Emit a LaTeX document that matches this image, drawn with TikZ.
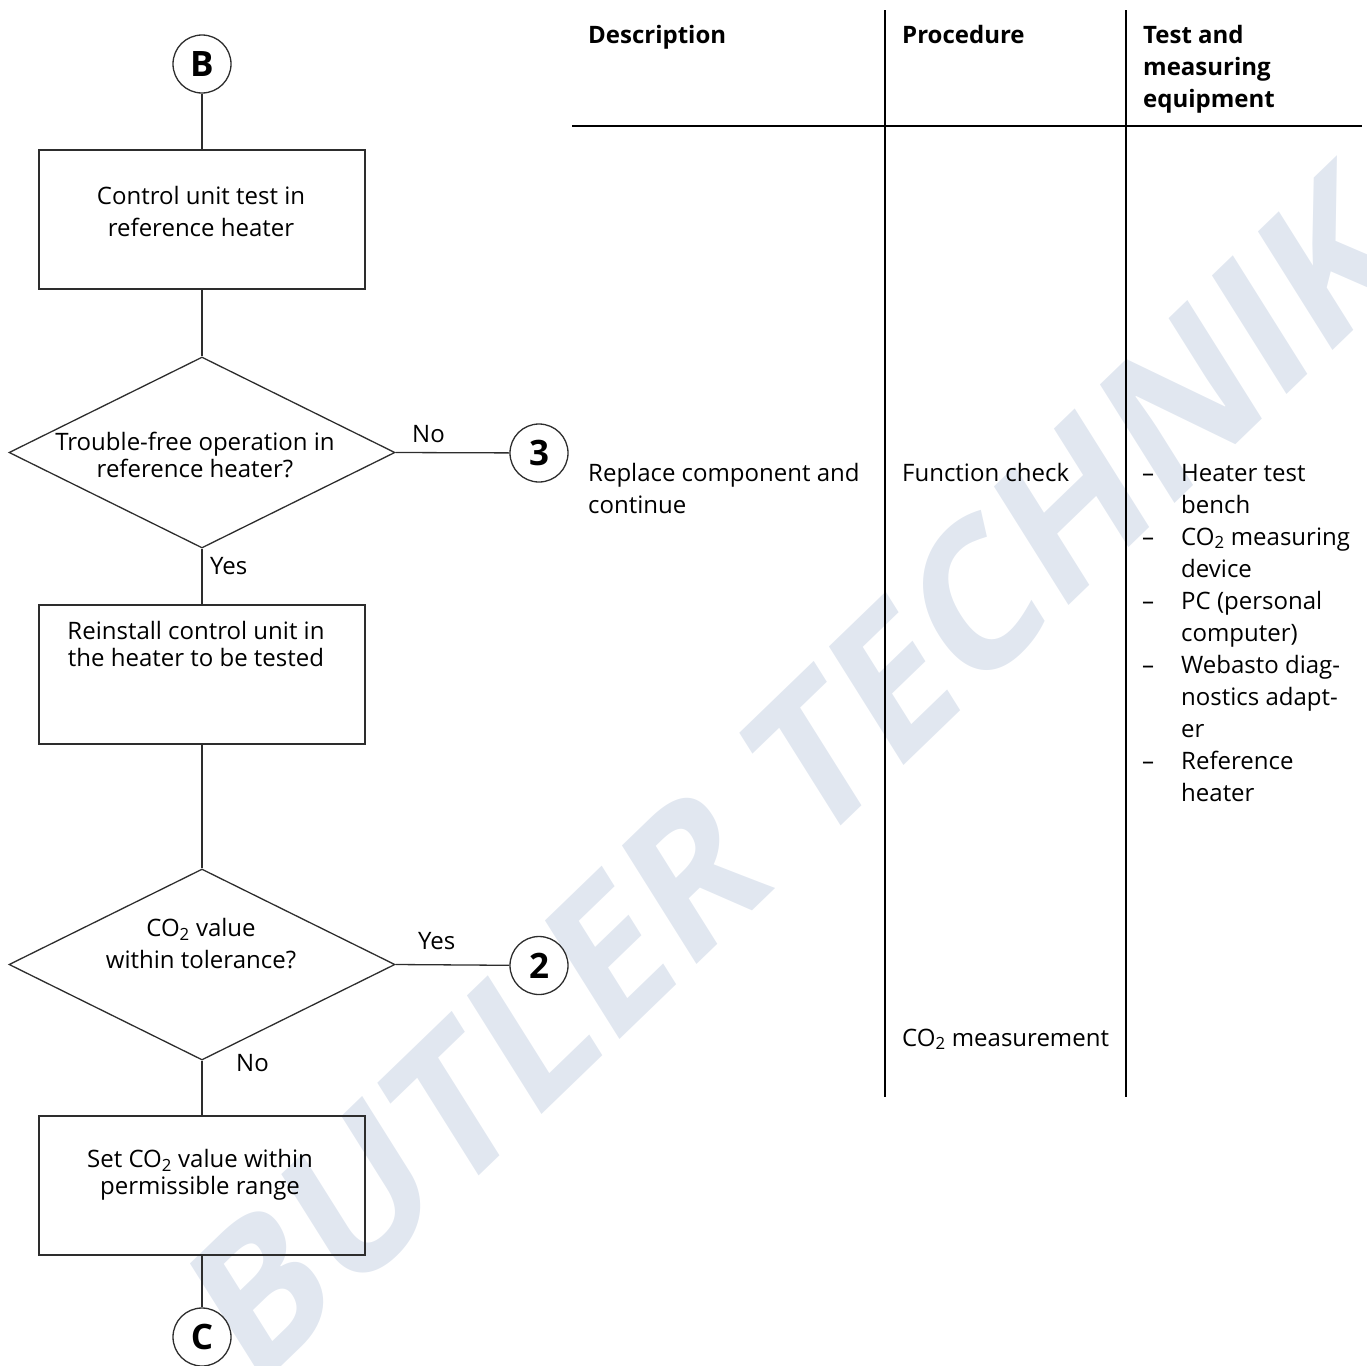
\documentclass[tikz,border=0pt]{standalone}
\usepackage{fontspec}
\setmainfont{Open Sans}
\usetikzlibrary{shapes.geometric, positioning}
\definecolor{wmblue}{RGB}{225,231,240}
\definecolor{lineg}{RGB}{45,45,45}

\begin{document}
\begin{tikzpicture}[x=1pt, y=-1pt,
  flowbox/.style={draw=lineg, line width=1.3, minimum width=326, minimum height=139, inner sep=0},
  decision/.style={diamond, draw=lineg, line width=1.3, minimum width=386, minimum height=191, inner sep=0},
  connector/.style={circle, draw=lineg, line width=1.3, minimum size=58, inner sep=0,
    font=\fontsize{35}{35}\selectfont\bfseries},
  flowtext/.style={align=center, inner sep=0, font=\fontsize{24}{27}\selectfont},
  coltext/.style={align=left, inner sep=0, anchor=north west, font=\fontsize{24}{32}\selectfont},
  label/.style={inner sep=0, anchor=base west, font=\fontsize{24}{27}\selectfont}]
  \useasboundingbox (0,0) rectangle (1367,1365);
  % Wasserzeichen
  \node[rotate=44, xslant=0.21, text=wmblue, inner sep=0, font=\fontsize{192}{192}\selectfont\bfseries]
    (wm) at (795,775) {BUTLER TECHNIK};
  % Tabelle rechts
  \draw[line width=1.2] (572,126) -- (1362,126);
  \foreach \cx in {885, 1126} {
    \draw[line width=1.2] (\cx,10) -- (\cx,1097);
  }
  \node[coltext] (hdesc) at (588,25) {\bfseries Description};
  \node[coltext] (hproc) at (902,25) {\bfseries Procedure};
  \node[coltext] (hequip) at (1143,25) {\bfseries Test and\\\bfseries measuring\\\bfseries equipment};
  \node[coltext] (desc) at (588,463) {Replace component and\\continue};
  \node[coltext] (proc) at (902,463) {Function check};
  \node[coltext] (meas) at (902,1028.5) {CO\textsubscript{2} measurement};
  \node[coltext] (equip) at (1142,458.6) {%
    \begin{tabular}{@{}p{39pt}@{}l@{}}
      -- & Heater test\\
         & bench\\
      -- & CO\textsubscript{2} measuring\\
         & device\\
      -- & PC (personal\\
         & computer)\\
      -- & Webasto diag-\\
         & nostics adapt-\\
         & er\\
      -- & Reference\\
         & heater
    \end{tabular}};
  % Ablauf links
  \node[connector] (B) at (202,64) {B};
  \node[flowbox] (ctrl) at (202,219.5) {};
  \node[flowtext, font=\fontsize{24}{32}\selectfont] (ctrltxt) at (201,211.5) {Control unit test in\\reference heater};
  \node[decision] (dref) at (202,452.5) {};
  \node[flowtext] (dreftxt) at (195,455) {Trouble-free operation in\\reference heater?};
  \node[connector] (c3) at (539,453) {3};
  \node[flowbox] (reinst) at (202,674.5) {};
  \node[flowtext] (reinsttxt) at (196,644) {Reinstall control unit in\\the heater to be tested};
  \node[decision] (dco) at (202,964.5) {};
  \node[flowtext, font=\fontsize{24}{32}\selectfont] (dcotxt) at (201,943.5) {CO\textsubscript{2} value\\within tolerance?};
  \node[connector] (c2) at (539,965.5) {2};
  \node[flowbox] (setco) at (202,1185.5) {};
  \node[flowtext] (setcotxt) at (200,1175) {Set CO\textsubscript{2} value within\\permissible range};
  \node[connector] (C) at (202,1337) {C};
  % Verbindungen
  \draw[lineg, line width=1.3] (B) -- (ctrl);
  \draw[lineg, line width=1.3] (ctrl) -- (dref);
  \draw[lineg, line width=1.3] (dref.east) -- (c3);
  \draw[lineg, line width=1.3] (dref.south) -- (reinst);
  \draw[lineg, line width=1.3] (reinst) -- (dco);
  \draw[lineg, line width=1.3] (dco.east) -- (c2);
  \draw[lineg, line width=1.3] (dco.south) -- (setco);
  \draw[lineg, line width=1.3] (setco) -- (C);
  % Ja/Nein
  \node[label] (no1) at (412,442) {No};
  \node[label] (yes1) at (210,574) {Yes};
  \node[label] (yes2) at (418,949) {Yes};
  \node[label] (no2) at (236,1071) {No};
\end{tikzpicture}
\end{document}
